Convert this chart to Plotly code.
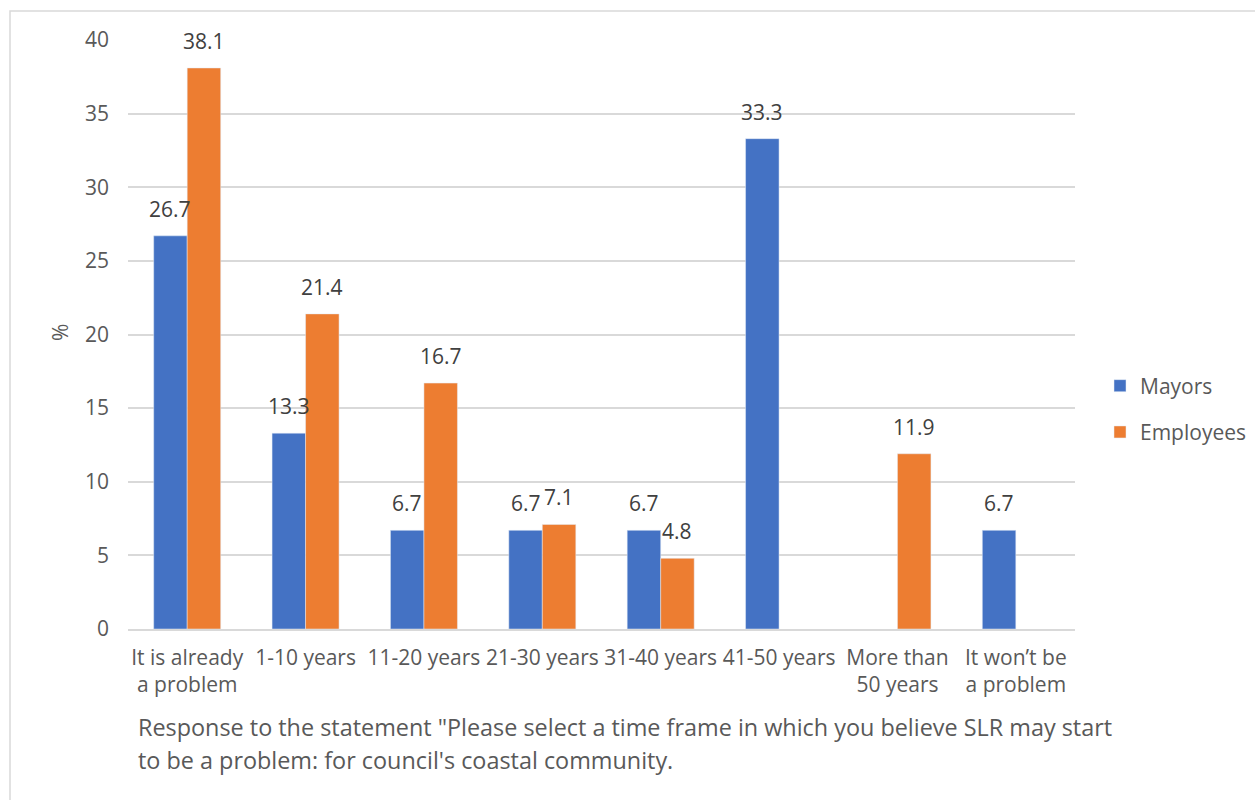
import plotly.graph_objects as go

# Survey responses (% of respondents)
categories = ["It is already<br>a problem", "1-10 years", "11-20 years", "21-30 years",
              "31-40 years", "41-50 years", "More than<br>50 years", "It won\u2019t be<br>a problem"]
mayors = [26.7, 13.3, 6.7, 6.7, 6.7, 33.3, None, 6.7]
employees = [38.1, 21.4, 16.7, 7.1, 4.8, None, 11.9, None]
y_ticks = [0, 5, 10, 15, 20, 25, 30, 35, 40]

x_title_lines = [
    'Response to the statement "Please select a time frame in which you believe SLR may start',
    "to be a problem: for council's coastal community.",
]

BLUE = "#4472C4"
ORANGE = "#ED7D31"
TEXT = "#595959"
LABEL = "#404040"
FONT = "'Open Sans', Lato, sans-serif"
FS = 21

W, H = 1255, 800
L, R, T, B = 128, 180, 40, 171
BARGAP = 0.434
plot_w = W - L - R
plot_h = H - T - B
cat_w = plot_w / len(categories)
bar_shift = (1 - BARGAP) * cat_w / 4


def px_x(px):
    return (px - L) / plot_w


def px_y(py):
    return (H - B - py) / plot_h


fig = go.Figure()
fig.add_trace(go.Bar(x=categories, y=mayors, name="Mayors", marker_color=BLUE,
                     legendgroup="m"))
fig.add_trace(go.Bar(x=categories, y=employees, name="Employees", marker_color=ORANGE,
                     legendgroup="e"))

# value labels above each bar
annotations = []
for series, sign in ((mayors, -1), (employees, 1)):
    for cat, v in zip(categories, series):
        if v is None:
            continue
        annotations.append(dict(
            x=cat, y=v, xref="x", yref="y", text=f"{v:.1f}", showarrow=False,
            xanchor="center", yanchor="bottom", xshift=sign * bar_shift, yshift=11,
            font=dict(family=FONT, size=FS, color=LABEL)))

# axis titles
annotations.append(dict(x=px_x(60), y=px_y(333), xref="paper", yref="paper", text="%",
                        textangle=-90, showarrow=False, xanchor="center", yanchor="middle",
                        font=dict(family=FONT, size=FS, color=TEXT)))
for i, line in enumerate(x_title_lines):
    annotations.append(dict(x=px_x(136), y=px_y(727 + 33 * i), xref="paper", yref="paper",
                            text=line, showarrow=False, xanchor="left", yanchor="middle",
                            align="left", font=dict(family=FONT, size=23.4, color=TEXT)))

fig.update_layout(
    width=W, height=H,
    margin=dict(l=L, r=R, t=T, b=B, pad=0, autoexpand=False),
    paper_bgcolor="white", plot_bgcolor="white",
    barmode="group", bargap=BARGAP, bargroupgap=0,
    font=dict(family=FONT, size=FS, color=TEXT),
    showlegend=True,
    legend=dict(x=px_x(1100), y=px_y(409), xanchor="left", yanchor="middle",
                font=dict(family=FONT, size=FS, color=TEXT), tracegroupgap=16,
                bgcolor="rgba(0,0,0,0)"),
    annotations=annotations,
    shapes=[dict(type="rect", xref="paper", yref="paper",
                 x0=px_x(10), x1=px_x(1270), y0=px_y(11), y1=px_y(815),
                 line=dict(color="#d9d9d9", width=1.5), fillcolor="rgba(0,0,0,0)",
                 layer="below")],
)
fig.update_xaxes(showgrid=False, showline=True, linecolor="#d9d9d9", linewidth=1.5,
                 ticks="", tickfont=dict(family=FONT, size=FS, color=TEXT),
                 ticklabelstandoff=9)
fig.update_yaxes(range=[0, 40], tickvals=y_ticks, showgrid=True, gridcolor="#d9d9d9",
                 gridwidth=1.5, zeroline=False, showline=False, ticks="",
                 tickfont=dict(family=FONT, size=FS, color=TEXT), ticklabelstandoff=18)

fig.write_html("out.html")
